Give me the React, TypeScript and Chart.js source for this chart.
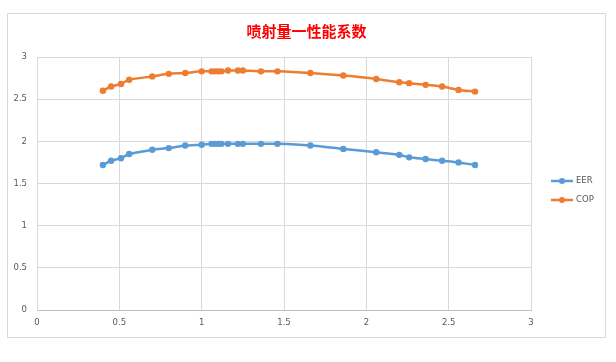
import React, { useEffect, useRef } from "react";
import { Chart, registerables } from "chart.js";

Chart.register(...registerables);

const chartTitle = "喷射量一性能系数";
const seriesNames = ["EER", "COP"];
const xValues = [0.4, 0.45, 0.51, 0.56, 0.7, 0.8, 0.9, 1.0, 1.06, 1.08, 1.1, 1.12, 1.16, 1.22, 1.25, 1.36, 1.46, 1.66, 1.86, 2.06, 2.2, 2.26, 2.36, 2.46, 2.56, 2.66];
const eerValues = [1.72, 1.77, 1.8, 1.85, 1.9, 1.92, 1.95, 1.96, 1.97, 1.97, 1.97, 1.97, 1.97, 1.97, 1.97, 1.97, 1.97, 1.95, 1.91, 1.87, 1.84, 1.81, 1.79, 1.77, 1.75, 1.72];
const copValues = [2.6, 2.65, 2.68, 2.73, 2.77, 2.8, 2.81, 2.83, 2.83, 2.83, 2.83, 2.83, 2.84, 2.84, 2.84, 2.83, 2.83, 2.81, 2.78, 2.74, 2.7, 2.69, 2.67, 2.65, 2.61, 2.59];
const axisMin = 0;
const axisMax = 3;
const axisStep = 0.5;

const seriesColors = ["#5B9BD5", "#ED7D31"];
const tickFont = { family: "'DejaVu Sans', sans-serif", size: 8.5 };
const fmt = (v: any) => String(Number(v));

const legendPlugin = {
  id: "sideLegend",
  afterDraw(chart: any) {
    const { ctx, chartArea } = chart;
    const x0 = chartArea.right + 20;
    const cy = (chartArea.top + chartArea.bottom) / 2 + 7;
    chart.data.datasets.forEach((ds: any, i: number) => {
      const y = cy - 9.5 + i * 19;
      ctx.save();
      ctx.strokeStyle = ds.borderColor;
      ctx.lineWidth = 2.5;
      ctx.beginPath();
      ctx.moveTo(x0, y);
      ctx.lineTo(x0 + 22, y);
      ctx.stroke();
      ctx.fillStyle = ds.backgroundColor;
      ctx.beginPath();
      ctx.arc(x0 + 11, y, 3, 0, Math.PI * 2);
      ctx.fill();
      ctx.fillStyle = "#595959";
      ctx.font = "8.5px 'DejaVu Sans', sans-serif";
      ctx.textBaseline = "middle";
      ctx.textAlign = "left";
      ctx.fillText(ds.label, x0 + 25, y);
      ctx.restore();
    });
  },
};

export default function App() {
  const ref = useRef<HTMLCanvasElement>(null);
  useEffect(() => {
    if (!ref.current) return;
    const mk = (vals: number[], i: number) => ({
      label: seriesNames[i],
      data: xValues.map((x, k) => ({ x, y: vals[k] })),
      borderColor: seriesColors[i],
      backgroundColor: seriesColors[i],
      borderWidth: 2.5,
      pointRadius: 3.2,
      pointHoverRadius: 3.2,
      pointBorderWidth: 0,
      showLine: true,
      tension: 0.3,
      yAxisID: "y",
    });
    const chart = new Chart(ref.current, {
      type: "scatter",
      data: { datasets: [mk(eerValues, 0), mk(copValues, 1)] },
      options: {
        responsive: false,
        animation: false,
        layout: { padding: 0 },
        plugins: {
          legend: { display: false },
          tooltip: { enabled: false },
          title: {
            display: true,
            text: chartTitle,
            color: "#FF0000",
            font: { family: "'Noto Sans CJK SC', sans-serif", size: 15, weight: "bold" },
            padding: { top: 8, bottom: 17 },
          },
        },
        scales: {
          x: {
            type: "linear",
            min: axisMin,
            max: axisMax,
            ticks: { stepSize: axisStep, color: "#595959", font: tickFont, padding: 8, maxRotation: 0, callback: fmt },
            grid: { color: "#d9d9d9", drawTicks: false },
            border: { color: "#bfbfbf" },
            afterFit(scale: any) {
              scale.height = 27;
            },
          },
          y: {
            type: "linear",
            min: axisMin,
            max: axisMax,
            ticks: { stepSize: axisStep, color: "#595959", font: tickFont, padding: 10, callback: fmt },
            grid: { color: "#d9d9d9", drawTicks: false },
            border: { color: "#d9d9d9" },
            afterFit(scale: any) {
              scale.width = 29;
            },
          },
          legendSpace: {
            type: "linear",
            position: "right",
            min: axisMin,
            max: axisMax,
            grid: { display: false, drawTicks: false },
            border: { display: false },
            ticks: { display: false },
            afterFit(scale: any) {
              scale.width = 74;
            },
          },
        },
      },
      plugins: [legendPlugin],
    });
    return () => chart.destroy();
  }, []);
  return (
    <div
      style={{
        position: "absolute",
        left: 7,
        top: 13,
        width: 597,
        height: 323,
        border: "1px solid #d9d9d9",
        background: "#fff",
      }}
    >
      <canvas ref={ref} width={597} height={323} style={{ display: "block" }} />
    </div>
  );
}
